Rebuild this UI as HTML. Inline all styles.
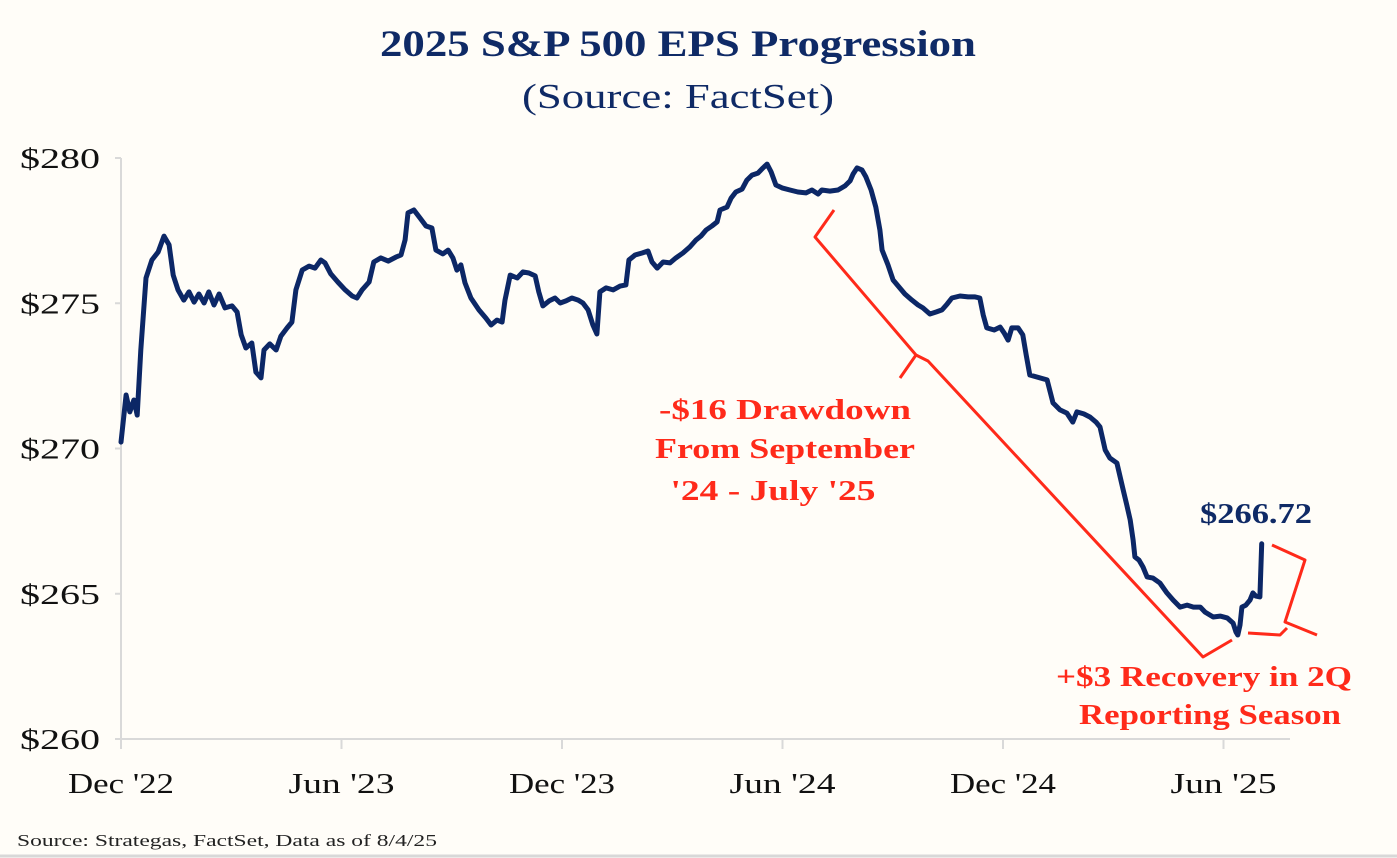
<!DOCTYPE html>
<html><head><meta charset="utf-8"><style>
html,body{margin:0;padding:0;background:#fffdf8;}
svg{display:block;font-family:"Liberation Serif",serif;}
</style></head><body>
<svg width="1397" height="858" viewBox="0 0 1397 858">
<rect x="0" y="0" width="1397" height="858" fill="#fffdf8"/>
<text x="678" y="56" text-anchor="middle" font-size="37" font-weight="bold" fill="#0f2a66" textLength="596" lengthAdjust="spacingAndGlyphs">2025 S&amp;P 500 EPS Progression</text>
<text x="678" y="108" text-anchor="middle" font-size="35" fill="#0f2a66" textLength="312" lengthAdjust="spacingAndGlyphs">(Source: FactSet)</text>
<g id="axes"></g>
<path id="line" fill="none" stroke="#0c2766" stroke-width="5" stroke-linejoin="round" stroke-linecap="round"/>
<path d="M834,210 L815,237 L916,355 L900,378 M916,355 L928,361 L1203,657 L1232,640" fill="none" stroke="#ff2a1a" stroke-width="3" stroke-linejoin="round"/>
<path d="M1272,545 L1305,560 L1285,622 L1317,635 M1248,633 L1280,635 L1287,628" fill="none" stroke="#ff2a1a" stroke-width="3" stroke-linejoin="round"/>
<g fill="#ff2a1a" font-size="29" font-weight="bold" text-anchor="middle">
<text x="785" y="419" textLength="252" lengthAdjust="spacingAndGlyphs">-$16 Drawdown</text>
<text x="785" y="458" textLength="260" lengthAdjust="spacingAndGlyphs">From September</text>
<text x="773" y="500" textLength="205" lengthAdjust="spacingAndGlyphs">'24 - July '25</text>
</g>
<g fill="#ff2a1a" font-size="29" font-weight="bold" text-anchor="middle">
<text x="1204" y="686" textLength="296" lengthAdjust="spacingAndGlyphs">+$3 Recovery in 2Q</text>
<text x="1210" y="724" textLength="262" lengthAdjust="spacingAndGlyphs">Reporting Season</text>
</g>
<text x="1256" y="523" text-anchor="middle" font-size="29" font-weight="bold" fill="#0f2a66" textLength="112" lengthAdjust="spacingAndGlyphs">$266.72</text>
<text x="17" y="846" font-size="17" fill="#222" textLength="420" lengthAdjust="spacingAndGlyphs">Source: Strategas, FactSet, Data as of 8/4/25</text>
<line x1="0" y1="856" x2="1397" y2="856" stroke="#d8d8d8" stroke-width="3"/>
</svg>
<script>
const yTicks=[260,265,270,275,280];
const yTickLabels=["$260","$265","$270","$275","$280"];
const xTicks=[0,6,12,18,24,30];
const xTickLabels=["Dec '22","Jun '23","Dec '23","Jun '24","Dec '24","Jun '25"];
const months=[0,.14,.24,.35,.44,.54,.68,.84,1.01,1.17,1.31,1.42,1.55,1.71,1.85,1.99,2.12,2.26,2.39,2.53,2.67,2.83,3.02,3.16,3.27,3.40,3.56,3.67,3.81,3.89,4.05,4.22,4.35,4.52,4.65,4.76,4.93,5.12,5.28,5.44,5.55,5.71,5.90,6.10,6.29,6.42,6.56,6.75,6.88,7.07,7.27,7.48,7.62,7.73,7.81,7.97,8.14,8.30,8.46,8.57,8.76,8.90,9.03,9.14,9.25,9.36,9.52,9.74,9.93,10.07,10.23,10.37,10.45,10.59,10.78,10.94,11.10,11.27,11.37,11.48,11.65,11.81,11.95,12.11,12.27,12.44,12.57,12.71,12.84,12.95,13.03,13.20,13.39,13.58,13.74,13.82,13.99,14.18,14.34,14.45,14.59,14.75,14.94,15.10,15.29,15.48,15.65,15.78,15.92,16.08,16.22,16.30,16.49,16.60,16.73,16.90,17.03,17.17,17.33,17.47,17.58,17.69,17.82,17.99,18.20,18.42,18.64,18.80,18.97,19.07,19.29,19.51,19.70,19.84,19.92,20.03,20.16,20.27,20.41,20.54,20.65,20.71,20.87,21.01,21.17,21.33,21.52,21.69,21.82,22.01,22.18,22.34,22.48,22.61,22.83,23.05,23.24,23.37,23.46,23.56,23.76,23.92,24.03,24.14,24.24,24.41,24.54,24.63,24.73,25.20,25.36,25.55,25.74,25.90,26.01,26.20,26.37,26.53,26.64,26.78,26.91,27.10,27.27,27.37,27.46,27.54,27.59,27.70,27.81,27.92,28.08,28.27,28.46,28.63,28.82,29.01,29.18,29.37,29.50,29.72,29.91,30.10,30.26,30.34,30.39,30.45,30.50,30.61,30.72,30.80,30.88,30.99,31.04];
const eps=[270.22,271.84,271.26,271.67,271.15,273.39,275.87,276.49,276.76,277.31,277.01,275.97,275.46,275.11,275.39,275.04,275.32,275.01,275.39,274.94,275.32,274.84,274.91,274.70,273.91,273.46,273.63,272.63,272.43,273.39,273.60,273.39,273.87,274.15,274.35,275.46,276.14,276.28,276.21,276.49,276.39,276.01,275.73,275.46,275.25,275.18,275.46,275.73,276.42,276.56,276.45,276.59,276.66,277.18,278.11,278.21,277.93,277.66,277.59,276.83,276.70,276.83,276.56,276.14,276.32,275.70,275.18,274.77,274.49,274.25,274.42,274.35,275.11,275.97,275.87,276.08,276.04,275.94,275.39,274.91,275.08,275.18,275.01,275.08,275.18,275.11,275.01,274.77,274.25,273.94,275.39,275.53,275.46,275.59,275.63,276.49,276.66,276.73,276.80,276.42,276.21,276.42,276.39,276.56,276.73,276.94,277.18,277.31,277.52,277.66,277.80,278.21,278.31,278.62,278.83,278.93,279.24,279.41,279.48,279.66,279.79,279.52,279.07,278.97,278.90,278.83,278.80,278.90,278.76,278.90,278.86,278.90,279.04,279.21,279.45,279.66,279.59,279.35,278.90,278.31,277.52,276.83,276.32,275.80,275.56,275.32,275.11,274.94,274.84,274.63,274.70,274.77,274.97,275.18,275.25,275.22,275.22,275.18,274.60,274.15,274.08,274.18,273.98,273.73,274.15,274.15,273.91,273.22,272.53,272.36,271.57,271.33,271.22,270.91,271.26,271.19,271.08,270.91,270.74,269.95,269.67,269.50,268.57,268.05,267.54,266.85,266.27,266.16,265.92,265.58,265.54,265.37,265.03,264.78,264.54,264.61,264.54,264.54,264.37,264.20,264.23,264.17,263.99,263.68,263.58,263.92,264.54,264.61,264.78,265.03,264.92,264.89,266.72];

const X0=121,PXM=36.75,Y0=739,PXD=29.05;
function xs(m){return X0+m*PXM;}
function ys(v){return Y0-(v-260)*PXD;}
const NS="http://www.w3.org/2000/svg";
const axes=document.getElementById('axes');
function mk(tag,attrs,parent){const e=document.createElementNS(NS,tag);for(const k in attrs)e.setAttribute(k,attrs[k]);parent.appendChild(e);return e;}
const ya=mk('line',{x1:X0,y1:ys(280),x2:X0,y2:Y0,stroke:'#d9d9d9','stroke-width':2},axes);


const xa=mk('line',{x1:X0,y1:Y0,x2:1290,y2:Y0,stroke:'#d9d9d9','stroke-width':2},axes);


yTicks.forEach((v,i)=>{
  const t=mk('text',{x:100,y:ys(v)+10,'text-anchor':'end','font-size':28,fill:'#111',textLength:80,lengthAdjust:'spacingAndGlyphs'},axes);
  t.textContent=yTickLabels[i];
  
  
  const tk=mk('line',{x1:X0-6,y1:ys(v),x2:X0,y2:ys(v),stroke:'#d9d9d9','stroke-width':2},axes);
  
  
});
xTicks.forEach((m,i)=>{
  const tk=mk('line',{x1:xs(m),y1:Y0,x2:xs(m),y2:Y0+10,stroke:'#d9d9d9','stroke-width':2},axes);
  
  
  const t=mk('text',{x:xs(m),y:793,'text-anchor':'middle','font-size':28,fill:'#111',textLength:106,lengthAdjust:'spacingAndGlyphs'},axes);
  t.textContent=xTickLabels[i];
  
  
});
let d='';
months.forEach((m,i)=>{d+=(i?'L':'M')+xs(m).toFixed(1)+','+ys(eps[i]).toFixed(1)+' ';});
document.getElementById('line').setAttribute('d',d);
</script>
</body></html>
